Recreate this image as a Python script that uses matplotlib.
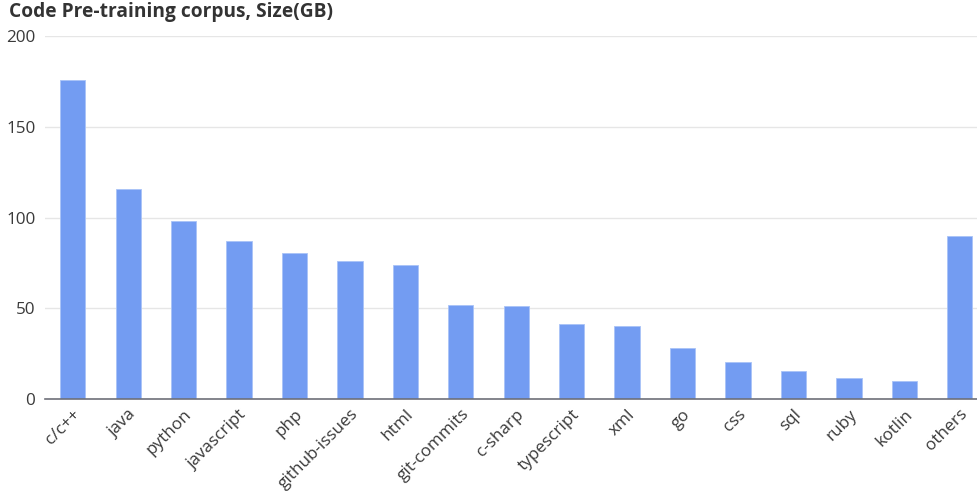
import matplotlib
matplotlib.use("Agg")
import matplotlib.pyplot as plt

categories = ["c/c++", "java", "python", "javascript", "php", "github-issues", "html",
              "git-commits", "c-sharp", "typescript", "xml", "go", "css", "sql", "ruby",
              "kotlin", "others"]
sizes_gb = [176, 116, 98, 87, 80.5, 76, 74.2, 52, 51.1, 41.3, 40.1, 28.4, 20.5, 15.4, 11.7, 10.2, 90.1]
yticks = [0, 50, 100, 150, 200]

plt.rcParams['font.family'] = ['Open Sans', 'DejaVu Sans']

W, H = 977, 491
fig = plt.figure(figsize=(W / 100, H / 100), dpi=100)
left_px, right_px, top_px, bottom_px = 45, 987.5, 36, 399.3
ax = fig.add_axes([left_px / W, 1 - bottom_px / H, (right_px - left_px) / W, (bottom_px - top_px) / H])

x = list(range(len(categories)))
ax.bar(x, sizes_gb, width=0.456, color="#739cf2", edgecolor="#a9c3f7", linewidth=0.6, zorder=3)

ax.set_xlim(-0.5, len(categories) - 0.5)
ax.set_ylim(0, 200)
ax.set_yticks(yticks)
ax.set_yticklabels([str(v) for v in yticks])
ax.grid(axis="y", color="#e6e6e6", linewidth=1, zorder=0)
ax.set_axisbelow(True)

for s in ["top", "right", "left"]:
    ax.spines[s].set_visible(False)
ax.spines["bottom"].set_color("#6e7079")
ax.spines["bottom"].set_linewidth(1.2)
ax.spines["bottom"].set_zorder(4)

ax.tick_params(axis="y", length=0, pad=7, labelsize=12.3, labelcolor="#3a3a3a")
ax.tick_params(axis="x", length=0, pad=5, labelsize=12.3, labelcolor="#3a3a3a")
ax.set_xticks(x)
ax.set_xticklabels(categories, rotation=45, ha="right", va="top", rotation_mode="anchor")

fig.text(9 / W, 1 - 12 / H, "Code Pre-training corpus, Size(GB)", fontsize=13.8,
         fontweight="bold", color="#333333", ha="left", va="center")

fig.savefig("out.png", dpi=100)
